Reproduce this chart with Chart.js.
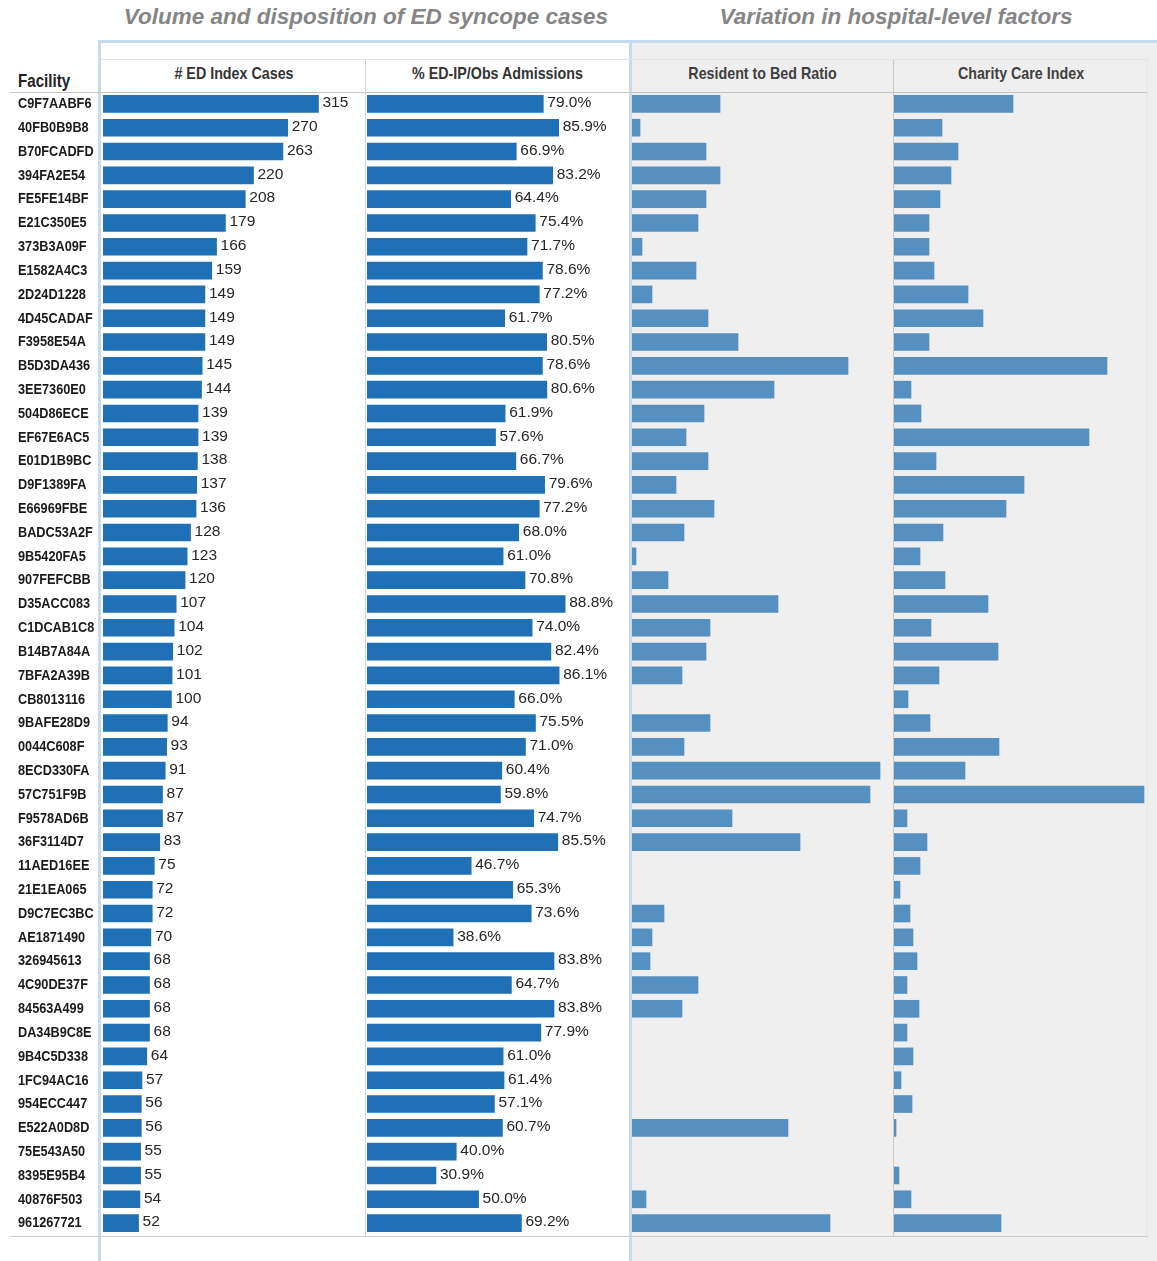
<!DOCTYPE html>
<html>
<head>
<meta charset="utf-8">
<script src="https://cdn.jsdelivr.net/npm/chart.js@4.4.0/dist/chart.umd.min.js"></script>
<style>
    body { margin: 0; background: #fff; }
    #wrap { position: relative; width: 1157px; height: 1261px; overflow: hidden; background: #fff; font-family: 'Liberation Sans', Arial, sans-serif; }
    .abs { position: absolute; }
    .title { font-weight: bold; font-style: italic; font-size: 22.5px; color: #858585; text-align: center; line-height: 26px; }
    .colhead { font-weight: bold; font-size: 17px; color: #333; text-align: center; line-height: 20px; transform: scaleX(0.84); transform-origin: center; }
    canvas { position: absolute; }
</style>
</head>
<body>
<div id="wrap">
    <div class="abs" style="left:631px; top:41px; width:526px; height:1220px; background:#f0efef;"></div>
    <div class="abs" style="left:98px; top:40px; width:1059px; height:3px; background:#c6dbf0;"></div>
    <div class="abs" style="left:98px; top:40px; width:3px; height:1221px; background:#c6dbf0;"></div>
    <div class="abs" style="left:629px; top:40px; width:3px; height:1221px; background:#c6dbf0;"></div>
    <div class="abs" style="left:101px; top:59px; width:1047px; height:1px; background:#e4e4e4;"></div>
    <div class="abs" style="left:10px; top:92px; width:1138px; height:1px; background:#c4c4c4;"></div>
    <div class="abs" style="left:10px; top:1236px; width:1138px; height:1px; background:#cccccc;"></div>
    <div class="abs" style="left:365px; top:60px; width:1px; height:1176px; background:#d6d6d6;"></div>
    <div class="abs" style="left:893px; top:60px; width:1px; height:1176px; background:#cfc8c2;"></div>
    <div class="abs" style="left:1147px; top:60px; width:1px; height:1176px; background:#e6e6e6;"></div>

    <div class="abs title" style="left:100px; top:4px; width:532px;">Volume and disposition of ED syncope cases</div>
    <div class="abs title" style="left:631px; top:4px; width:530px;">Variation in hospital-level factors</div>

    <div class="abs colhead" style="left:18px; top:71px; font-size:18px; color:#222; text-align:left; transform-origin:left;">Facility</div>
    <div class="abs colhead" style="left:103px; top:64px; width:262px;"># ED Index Cases</div>
    <div class="abs colhead" style="left:366px; top:64px; width:263px;">% ED-IP/Obs Admissions</div>
    <div class="abs colhead" style="left:632px; top:64px; width:261px; color:#404040;">Resident to Bed Ratio</div>
    <div class="abs colhead" style="left:894px; top:64px; width:254px; color:#404040;">Charity Care Index</div>

    <canvas id="casesChart" width="365" height="1143" style="left:0px; top:92px;"></canvas>
    <canvas id="admitChart" width="262" height="1143" style="left:367px; top:92px;"></canvas>
    <canvas id="residentChart" width="261" height="1143" style="left:632px; top:92px;"></canvas>
    <canvas id="charityChart" width="254" height="1143" style="left:894px; top:92px;"></canvas>
</div>
<script>
const facilities = [
    'C9F7AABF6', '40FB0B9B8', 'B70FCADFD', '394FA2E54', 'FE5FE14BF', 'E21C350E5',
    '373B3A09F', 'E1582A4C3', '2D24D1228', '4D45CADAF', 'F3958E54A', 'B5D3DA436',
    '3EE7360E0', '504D86ECE', 'EF67E6AC5', 'E01D1B9BC', 'D9F1389FA', 'E66969FBE',
    'BADC53A2F', '9B5420FA5', '907FEFCBB', 'D35ACC083', 'C1DCAB1C8', 'B14B7A84A',
    '7BFA2A39B', 'CB8013116', '9BAFE28D9', '0044C608F', '8ECD330FA', '57C751F9B',
    'F9578AD6B', '36F3114D7', '11AED16EE', '21E1EA065', 'D9C7EC3BC', 'AE1871490',
    '326945613', '4C90DE37F', '84563A499', 'DA34B9C8E', '9B4C5D338', '1FC94AC16',
    '954ECC447', 'E522A0D8D', '75E543A50', '8395E95B4', '40876F503', '961267721'
];
const indexCases = [
    315, 270, 263, 220, 208, 179, 166, 159, 149, 149, 149, 145,
    144, 139, 139, 138, 137, 136, 128, 123, 120, 107, 104, 102,
    101, 100, 94, 93, 91, 87, 87, 83, 75, 72, 72, 70,
    68, 68, 68, 68, 64, 57, 56, 56, 55, 55, 54, 52
];
const admitPct = [
    79.0, 85.9, 66.9, 83.2, 64.4, 75.4, 71.7, 78.6, 77.2, 61.7, 80.5, 78.6,
    80.6, 61.9, 57.6, 66.7, 79.6, 77.2, 68.0, 61.0, 70.8, 88.8, 74.0, 82.4,
    86.1, 66.0, 75.5, 71.0, 60.4, 59.8, 74.7, 85.5, 46.7, 65.3, 73.6, 38.6,
    83.8, 64.7, 83.8, 77.9, 61.0, 61.4, 57.1, 60.7, 40.0, 30.9, 50.0, 69.2
];
// no bar drawn where the factor is missing
const residentBedRatio = [
    0.44, 0.04, 0.37, 0.44, 0.37, 0.33, 0.05, 0.32, 0.10, 0.38, 0.53, 1.08,
    0.71, 0.36, 0.27, 0.38, 0.22, 0.41, 0.26, 0.02, 0.18, 0.73, 0.39, 0.37,
    0.25, null, 0.39, 0.26, 1.24, 1.19, 0.50, 0.84, null, null, 0.16, 0.10,
    0.09, 0.33, 0.25, null, null, null, null, 0.78, null, null, 0.07, 0.99
];
const charityCareIndex = [
    1.19, 0.48, 0.64, 0.57, 0.46, 0.35, 0.35, 0.40, 0.74, 0.89, 0.35, 2.13,
    0.17, 0.27, 1.95, 0.42, 1.30, 1.12, 0.49, 0.26, 0.51, 0.94, 0.37, 1.04,
    0.45, 0.14, 0.36, 1.05, 0.71, 2.50, 0.13, 0.33, 0.26, 0.06, 0.16, 0.19,
    0.23, 0.13, 0.25, 0.13, 0.19, 0.07, 0.18, 0.02, null, 0.05, 0.17, 1.07
];

const darkBlue = '#1f70b5';
const steelBlue = '#5590c0';

// writes the value just past the end of each bar
function valueLabels(fmt) {
    return {
        id: 'valueLabels',
        afterDatasetsDraw(chart) {
            const ctx = chart.ctx;
            const meta = chart.getDatasetMeta(0);
            const vals = chart.data.datasets[0].data;
            ctx.save();
            ctx.font = '15.5px "Liberation Sans", Arial, sans-serif';
            ctx.fillStyle = '#262626';
            ctx.textAlign = 'left';
            ctx.textBaseline = 'middle';
            meta.data.forEach((bar, i) => {
                ctx.fillText(fmt(vals[i]), bar.x + 4, bar.y - 1);
            });
            ctx.restore();
        }
    };
}

// facility names, bold and squeezed like the narrow font of the original
const facilityLabels = {
    id: 'facilityLabels',
    afterDraw(chart) {
        const ctx = chart.ctx;
        const yScale = chart.scales.y;
        ctx.save();
        ctx.font = 'bold 15.5px "Liberation Sans", Arial, sans-serif';
        ctx.fillStyle = '#1a1a1a';
        ctx.textAlign = 'left';
        ctx.textBaseline = 'middle';
        ctx.scale(0.82, 1);
        yScale.ticks.forEach((t, i) => {
            ctx.fillText(chart.data.labels[i], 18 / 0.82, yScale.getPixelForTick(i));
        });
        ctx.restore();
    }
};

function barConfig(values, color, xMax, showFacility, plugins) {
    const yAxis = {
        display: showFacility,
        grid: {display: false},
        border: {display: false},
        ticks: {display: false}
    };
    if (showFacility) {
        yAxis.afterFit = (s) => { s.width = 103; };
    }
    return {
        type: 'bar',
        data: {
            labels: facilities,
            datasets: [{
                    data: values,
                    backgroundColor: color,
                    borderWidth: 0,
                    barThickness: 17
                }]
        },
        options: {
            indexAxis: 'y',
            responsive: false,
            animation: false,
            devicePixelRatio: 1,
            layout: {
                padding: 0
            },
            plugins: {
                legend: {display: false},
                tooltip: {enabled: false}
            },
            scales: {
                x: {
                    display: false,
                    min: 0,
                    max: xMax
                },
                y: yAxis
            }
        },
        plugins: plugins
    };
}

var casesChart = new Chart(
        document.getElementById('casesChart'),
        barConfig(indexCases, darkBlue, 383, true, [valueLabels(v => String(v)), facilityLabels])
        );
var admitChart = new Chart(
        document.getElementById('admitChart'),
        barConfig(admitPct, darkBlue, 117.4, false, [valueLabels(v => v.toFixed(1) + '%')])
        );
var residentChart = new Chart(
        document.getElementById('residentChart'),
        barConfig(residentBedRatio, steelBlue, 1.305, false, [])
        );
var charityChart = new Chart(
        document.getElementById('charityChart'),
        barConfig(charityCareIndex, steelBlue, 2.54, false, [])
        );
</script>
</body>
</html>
